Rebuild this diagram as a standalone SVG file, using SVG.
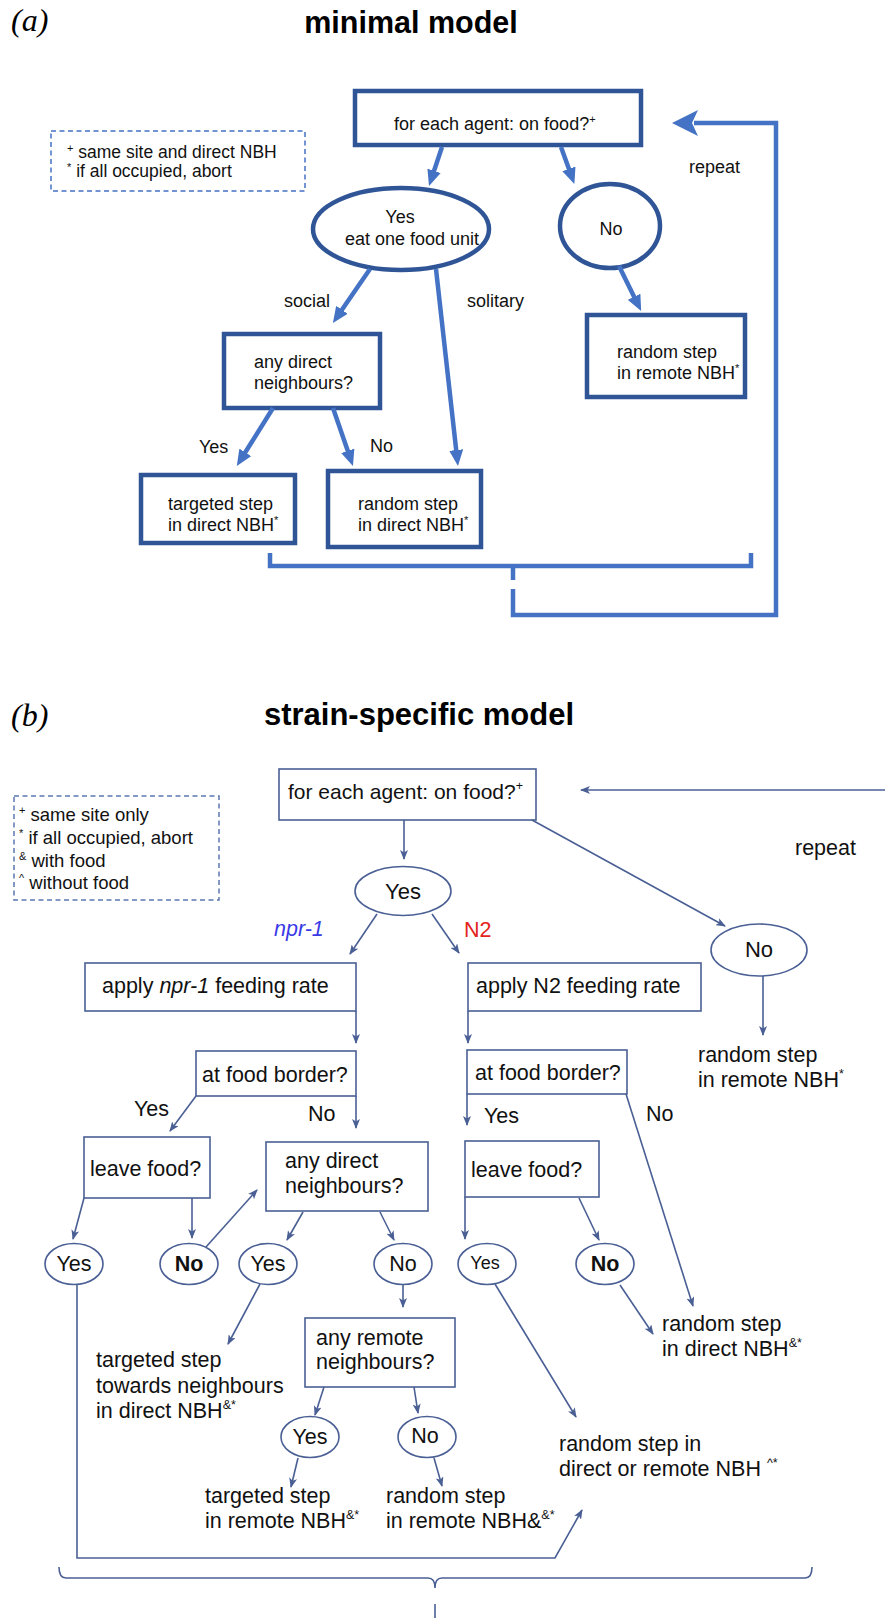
<svg xmlns="http://www.w3.org/2000/svg" width="885" height="1618" viewBox="0 0 885 1618">
<defs>
<style>
.t{font-family:"Liberation Sans",Arial,sans-serif;fill:#111}
.ta{font-size:18px}
.tb{font-size:21.5px}
.ttl{font-family:"Liberation Sans",Arial,sans-serif;font-weight:bold;fill:#000;text-anchor:middle}
.lab{font-family:"Liberation Serif","Times New Roman",serif;font-style:italic;font-size:32px;fill:#000}
.na{fill:#fff;stroke:#2F5597;stroke-width:4.5}
.ca{fill:none;stroke:#4472C4;stroke-width:4.5}
.nb{fill:#fff;stroke:#4A5F94;stroke-width:1.6}
.cb{fill:none;stroke:#4A5F94;stroke-width:1.6}
.leg{fill:none;stroke-width:1.5;stroke-dasharray:5,3.5}
.sup{font-size:11px}
.supb{font-size:12.5px}
</style>
<marker id="ah" markerUnits="userSpaceOnUse" markerWidth="16" markerHeight="14" viewBox="0 0 16 14" refX="10" refY="7" orient="auto">
<path d="M0,0 L16,7 L0,14 z" fill="#4472C4"/>
</marker>
<marker id="bh" markerUnits="userSpaceOnUse" markerWidth="10" markerHeight="8" viewBox="0 0 10 8" refX="9" refY="4" orient="auto">
<path d="M0,0 L10,4 L0,8 L2.5,4 z" fill="#4A5F94"/>
</marker>
</defs>
<rect width="885" height="1618" fill="#fff"/>

<!-- ===== (a) minimal model ===== -->
<text class="lab" x="11" y="31">(a)</text>
<text class="ttl" x="411" y="33" font-size="30.5">minimal model</text>

<g id="a-legend">
<rect class="leg" x="51" y="131" width="254" height="60" stroke="#4472C4"/>
<text class="t" x="67" y="158" font-size="17.5"><tspan class="sup" dy="-6">+</tspan><tspan dy="6"> same site and direct NBH</tspan></text>
<text class="t" x="67" y="177" font-size="17.5"><tspan class="sup" dy="-6">*</tspan><tspan dy="6"> if all occupied, abort</tspan></text>
</g>

<g id="a-start">
<rect class="na" x="355" y="91" width="286" height="54"/>
<text class="t ta" x="394" y="130">for each agent: on food?<tspan class="sup" dy="-7">+</tspan></text>
</g>

<g id="a-yes">
<ellipse class="na" cx="401" cy="229" rx="88" ry="41"/>
<text class="t ta" x="400" y="223" text-anchor="middle">Yes</text>
<text class="t ta" x="345" y="245">eat one food unit</text>
</g>

<g id="a-no">
<ellipse class="na" cx="610" cy="226" rx="50" ry="42"/>
<text class="t ta" x="611" y="235" text-anchor="middle">No</text>
</g>

<g id="a-anydirect">
<rect class="na" x="224" y="334" width="156" height="74"/>
<text class="t ta" x="254" y="368">any direct</text>
<text class="t ta" x="254" y="389">neighbours?</text>
</g>

<g id="a-randomremote">
<rect class="na" x="587" y="315" width="158" height="82"/>
<text class="t ta" x="617" y="358">random step</text>
<text class="t ta" x="617" y="379">in remote NBH<tspan class="sup" dy="-7">*</tspan></text>
</g>

<g id="a-targeted">
<rect class="na" x="141" y="475" width="154" height="68"/>
<text class="t ta" x="168" y="510">targeted step</text>
<text class="t ta" x="168" y="531">in direct NBH<tspan class="sup" dy="-7">*</tspan></text>
</g>

<g id="a-randomdirect">
<rect class="na" x="328" y="471" width="153" height="76"/>
<text class="t ta" x="358" y="510">random step</text>
<text class="t ta" x="358" y="531">in direct NBH<tspan class="sup" dy="-7">*</tspan></text>
</g>

<g id="a-connectors">
<line class="ca" x1="442" y1="147" x2="430.9" y2="180.3" marker-end="url(#ah)"/>
<line class="ca" x1="561" y1="147" x2="572.3" y2="178.3" marker-end="url(#ah)"/>
<line class="ca" x1="370" y1="269" x2="336.3" y2="318" marker-end="url(#ah)"/>
<line class="ca" x1="436" y1="269" x2="457.3" y2="460" marker-end="url(#ah)"/>
<line class="ca" x1="619" y1="266" x2="638.5" y2="305.7" marker-end="url(#ah)"/>
<line class="ca" x1="273" y1="408" x2="240" y2="460.8" marker-end="url(#ah)"/>
<line class="ca" x1="333" y1="408" x2="351" y2="460.3" marker-end="url(#ah)"/>
<path class="ca" d="M270,553 L270,566 L751,566 L751,553"/>
<path class="ca" d="M513,566 L513,580"/>
<path class="ca" d="M513,589 L513,615 L776,615 L776,123 L694,123"/>
<polygon points="672,123 698,110 692,123 698,136" fill="#4472C4"/>
<text class="t ta" x="284" y="307">social</text>
<text class="t ta" x="467" y="307">solitary</text>
<text class="t ta" x="199" y="453">Yes</text>
<text class="t ta" x="370" y="452">No</text>
<text class="t ta" x="689" y="173">repeat</text>
</g>

<!-- ===== (b) strain-specific model ===== -->
<text class="lab" x="11" y="726">(b)</text>
<text class="ttl" x="419" y="725" font-size="31">strain-specific model</text>

<g id="b-legend">
<rect class="leg" x="14" y="796" width="205" height="104" stroke="#5B77B0"/>
<text class="t" x="19" y="821" font-size="18.5"><tspan class="sup" dy="-7">+</tspan><tspan dy="7"> same site only</tspan></text>
<text class="t" x="19" y="844" font-size="18.5"><tspan class="sup" dy="-7">*</tspan><tspan dy="7"> if all occupied, abort</tspan></text>
<text class="t" x="19" y="867" font-size="18.5"><tspan class="sup" dy="-7">&amp;</tspan><tspan dy="7"> with food</tspan></text>
<text class="t" x="19" y="889" font-size="18.5"><tspan class="sup" dy="-7">^</tspan><tspan dy="7"> without food</tspan></text>
</g>

<g id="b-start">
<rect class="nb" x="279" y="769" width="257" height="51"/>
<text class="t" x="288" y="799" font-size="21">for each agent: on food?<tspan class="supb" dy="-9">+</tspan></text>
</g>

<g id="b-yes">
<ellipse class="nb" cx="403" cy="891" rx="48" ry="24.5"/>
<text class="t" x="403" y="899" font-size="22" text-anchor="middle">Yes</text>
</g>

<g id="b-no">
<ellipse class="nb" cx="759" cy="950" rx="48" ry="26"/>
<text class="t" x="759" y="957" font-size="22" text-anchor="middle">No</text>
</g>

<g id="b-remote-random">
<text class="t tb" x="698" y="1062">random step</text>
<text class="t tb" x="698" y="1087">in remote NBH<tspan class="supb" dy="-9">*</tspan></text>
</g>

<g id="b-apply-npr1">
<rect class="nb" x="85" y="963" width="271" height="48"/>
<text class="t tb" x="102" y="993">apply <tspan font-style="italic">npr-1</tspan> feeding rate</text>
</g>

<g id="b-apply-n2">
<rect class="nb" x="468" y="963" width="233" height="48"/>
<text class="t tb" x="476" y="993">apply N2 feeding rate</text>
</g>

<g id="b-border-npr1">
<rect class="nb" x="196" y="1051" width="160" height="45"/>
<text class="t tb" x="202" y="1082">at food border?</text>
</g>

<g id="b-border-n2">
<rect class="nb" x="467" y="1050" width="160" height="44"/>
<text class="t tb" x="475" y="1080">at food border?</text>
</g>

<g id="b-leave-npr1">
<rect class="nb" x="84" y="1137" width="126" height="61"/>
<text class="t tb" x="90" y="1176">leave food?</text>
</g>

<g id="b-anydirect">
<rect class="nb" x="266" y="1142" width="162" height="69"/>
<text class="t tb" x="285" y="1168">any direct</text>
<text class="t tb" x="285" y="1193">neighbours?</text>
</g>

<g id="b-leave-n2">
<rect class="nb" x="465" y="1141" width="134" height="56"/>
<text class="t tb" x="471" y="1177">leave food?</text>
</g>

<g id="b-yes1">
<ellipse class="nb" cx="74" cy="1264" rx="29" ry="20.5"/>
<text class="t tb" x="74" y="1271" text-anchor="middle">Yes</text>
</g>
<g id="b-no1">
<ellipse class="nb" cx="189" cy="1264" rx="29" ry="20.5"/>
<text class="t tb" x="189" y="1271" text-anchor="middle" font-weight="bold">No</text>
</g>
<g id="b-yes2">
<ellipse class="nb" cx="268" cy="1264" rx="29" ry="20.5"/>
<text class="t tb" x="268" y="1271" text-anchor="middle">Yes</text>
</g>
<g id="b-no2">
<ellipse class="nb" cx="403" cy="1264" rx="29" ry="20.5"/>
<text class="t tb" x="403" y="1271" text-anchor="middle">No</text>
</g>
<g id="b-yes3">
<ellipse class="nb" cx="487" cy="1264" rx="29" ry="20.5"/>
<text class="t" x="485" y="1269" font-size="18" text-anchor="middle">Yes</text>
</g>
<g id="b-no3">
<ellipse class="nb" cx="605" cy="1264" rx="29" ry="20.5"/>
<text class="t tb" x="605" y="1271" text-anchor="middle" font-weight="bold">No</text>
</g>

<g id="b-targeted-direct">
<text class="t tb" x="96" y="1367">targeted step</text>
<text class="t tb" x="96" y="1393">towards neighbours</text>
<text class="t tb" x="96" y="1418">in direct NBH<tspan class="supb" dy="-9">&amp;*</tspan></text>
</g>

<g id="b-anyremote">
<rect class="nb" x="305" y="1318" width="150" height="69"/>
<text class="t tb" x="316" y="1345">any remote</text>
<text class="t tb" x="316" y="1369">neighbours?</text>
</g>

<g id="b-yes4">
<ellipse class="nb" cx="310" cy="1437" rx="29" ry="20.5"/>
<text class="t tb" x="310" y="1444" text-anchor="middle">Yes</text>
</g>
<g id="b-no4">
<ellipse class="nb" cx="427" cy="1437" rx="29" ry="20.5"/>
<text class="t tb" x="425" y="1443" text-anchor="middle">No</text>
</g>

<g id="b-targeted-remote">
<text class="t tb" x="205" y="1503">targeted step</text>
<text class="t tb" x="205" y="1528">in remote NBH<tspan class="supb" dy="-9">&amp;*</tspan></text>
</g>

<g id="b-random-remote2">
<text class="t tb" x="386" y="1503">random step</text>
<text class="t tb" x="386" y="1528">in remote NBH&amp;<tspan class="supb" dy="-9">&amp;*</tspan></text>
</g>

<g id="b-random-dr">
<text class="t tb" x="559" y="1451">random step in</text>
<text class="t tb" x="559" y="1476">direct or remote NBH <tspan class="supb" dy="-9">^*</tspan></text>
</g>

<g id="b-random-direct">
<text class="t tb" x="662" y="1331">random step</text>
<text class="t tb" x="662" y="1356">in direct NBH<tspan class="supb" dy="-9">&amp;*</tspan></text>
</g>

<g id="b-connectors">
<line class="cb" x1="885" y1="790" x2="581" y2="790" marker-end="url(#bh)"/>
<line class="cb" x1="404" y1="820" x2="404" y2="859" marker-end="url(#bh)"/>
<line class="cb" x1="532" y1="820" x2="725" y2="926" marker-end="url(#bh)"/>
<line class="cb" x1="377" y1="914" x2="350" y2="954" marker-end="url(#bh)"/>
<line class="cb" x1="432" y1="914" x2="459" y2="953" marker-end="url(#bh)"/>
<line class="cb" x1="763" y1="976" x2="763" y2="1035" marker-end="url(#bh)"/>
<line class="cb" x1="356" y1="1011" x2="356" y2="1043" marker-end="url(#bh)"/>
<line class="cb" x1="468" y1="1011" x2="468" y2="1043" marker-end="url(#bh)"/>
<line class="cb" x1="196" y1="1096" x2="170" y2="1131" marker-end="url(#bh)"/>
<line class="cb" x1="356" y1="1096" x2="356" y2="1128" marker-end="url(#bh)"/>
<line class="cb" x1="467" y1="1094" x2="467" y2="1125" marker-end="url(#bh)"/>
<line class="cb" x1="626" y1="1094" x2="693" y2="1306" marker-end="url(#bh)"/>
<line class="cb" x1="84" y1="1198" x2="73" y2="1239" marker-end="url(#bh)"/>
<line class="cb" x1="192" y1="1198" x2="192" y2="1238" marker-end="url(#bh)"/>
<line class="cb" x1="206" y1="1247" x2="257" y2="1190" marker-end="url(#bh)"/>
<line class="cb" x1="303" y1="1212" x2="287" y2="1240" marker-end="url(#bh)"/>
<line class="cb" x1="380" y1="1212" x2="394" y2="1240" marker-end="url(#bh)"/>
<line class="cb" x1="465" y1="1197" x2="465" y2="1239" marker-end="url(#bh)"/>
<line class="cb" x1="579" y1="1198" x2="599" y2="1240" marker-end="url(#bh)"/>
<line class="cb" x1="260" y1="1284" x2="228" y2="1344" marker-end="url(#bh)"/>
<line class="cb" x1="403" y1="1284" x2="403" y2="1307" marker-end="url(#bh)"/>
<line class="cb" x1="324" y1="1387" x2="315" y2="1415" marker-end="url(#bh)"/>
<line class="cb" x1="414" y1="1387" x2="418" y2="1413" marker-end="url(#bh)"/>
<line class="cb" x1="298" y1="1458" x2="291" y2="1487" marker-end="url(#bh)"/>
<line class="cb" x1="434" y1="1458" x2="442" y2="1486" marker-end="url(#bh)"/>
<line class="cb" x1="495" y1="1284" x2="576" y2="1417" marker-end="url(#bh)"/>
<line class="cb" x1="620" y1="1285" x2="653" y2="1334" marker-end="url(#bh)"/>
<path class="cb" d="M77,1284 L77,1558 L555,1558 L582,1510" marker-end="url(#bh)"/>
<path class="cb" d="M59,1567 Q59,1578 66,1578 L428,1578 Q435,1578 435,1588 Q435,1578 442,1578 L805,1578 Q812,1578 812,1567"/>
<path class="cb" d="M435,1604 L435,1618"/>
<text class="t tb" x="795" y="855">repeat</text>
<text class="tb" x="274" y="936" font-family="Liberation Sans, Arial, sans-serif" font-style="italic" fill="#3A3AE6">npr-1</text>
<text class="tb" x="464" y="937" font-family="Liberation Sans, Arial, sans-serif" fill="#E3241C">N2</text>
<text class="t tb" x="134" y="1116">Yes</text>
<text class="t tb" x="308" y="1121">No</text>
<text class="t tb" x="484" y="1123">Yes</text>
<text class="t tb" x="646" y="1121">No</text>
</g>
</svg>
